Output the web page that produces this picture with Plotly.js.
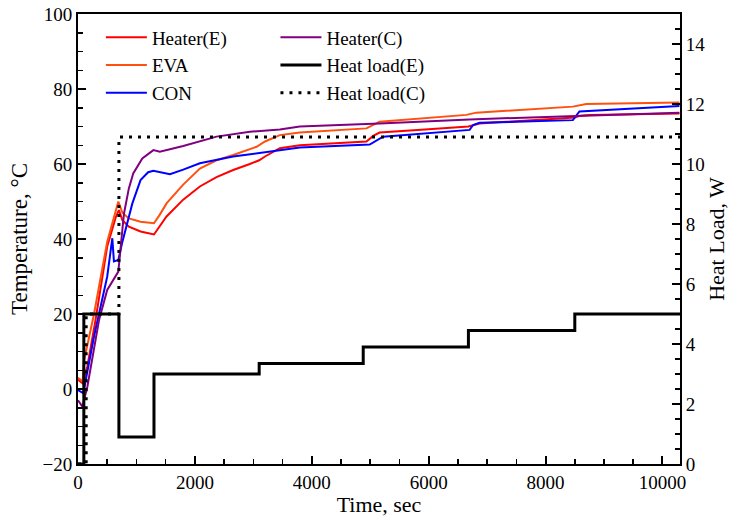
<!DOCTYPE html>
<html>
<head>
<meta charset="utf-8">
<script src="https://cdn.plot.ly/plotly-3.0.1.min.js"></script>
<style>html,body{margin:0;padding:0;background:#fff;}#chart{width:729px;height:517px;}</style>
</head>
<body>
<div id="chart"></div>
<script>
// Heater(E)
const heaterE_t = [0, 80, 160, 300, 500, 650, 700, 760, 870, 1070, 1300, 1400, 1515, 1800, 2085, 2370, 2655, 2940, 3100, 3200, 3453, 3795, 4500, 4935, 5050, 5160, 6000, 6680, 6870, 7500, 8500, 8600, 8750, 10290];
const heaterE_T = [2.5, 1.5, 6, 18.4, 38, 46, 47.7, 45, 43.3, 42, 41.2, 43.5, 46, 50.5, 54, 56.5, 58.4, 60, 61, 62, 64.2, 65, 65.7, 66, 67.5, 68.4, 69.3, 70, 70.8, 71.4, 72.4, 72.9, 73.1, 73.5];
// EVA
const eva_t = [0, 80, 100, 274, 500, 690, 760, 870, 1070, 1300, 1400, 1515, 1800, 2085, 2370, 2655, 3055, 3200, 3453, 3795, 4935, 5160, 6645, 6815, 8467, 8695, 10290];
const eva_T = [3, 2, 7.3, 20, 39.3, 50, 47, 45.5, 44.6, 44.2, 46.5, 49.5, 54.5, 58.8, 61, 62.4, 64.6, 66, 67.7, 68.4, 69.5, 71.3, 73.1, 73.7, 75.3, 76, 76.4];
// CON
const con_t = [0, 80, 100, 274, 500, 570, 587, 615, 690, 760, 930, 1070, 1200, 1290, 1400, 1573, 1800, 2085, 2655, 3225, 3453, 3795, 4990, 5220, 6700, 6760, 6870, 8467, 8580, 10290];
const con_T = [-0.3, -1, -0.3, 14, 30, 38, 40.2, 34, 34.4, 39.3, 49.5, 55.7, 57.8, 58.2, 57.8, 57.3, 58.5, 60.2, 62, 63.3, 63.7, 64.4, 65.2, 67.3, 69.1, 70.4, 71, 71.7, 74, 75.5];
// Heater(C)
const heaterC_t = [0, 75, 160, 360, 500, 690, 745, 787, 870, 945, 1100, 1290, 1400, 1800, 2370, 2940, 3453, 3795, 5160, 6700, 8525, 10290];
const heaterC_T = [-3, -4.7, 0.6, 18.4, 26.4, 31.3, 40.2, 46.8, 53.5, 57.5, 61.5, 63.7, 63.3, 64.8, 67.3, 68.6, 69.2, 70, 70.8, 71.9, 72.8, 73.7];
// Heat loads (W)
const loadE_t = [0, 100, 700, 1300, 3100, 4880, 6680, 8500, 10300];
const loadE_W = [0, 5, 0.9, 3, 3.35, 3.9, 4.45, 5, 5];
const loadC_t = [0, 140, 700, 10300];
const loadC_W = [0, 5, 10.9, 10.9];

const xTicks = [0, 2000, 4000, 6000, 8000, 10000];
const xTickText = ['0', '2000', '4000', '6000', '8000', '10000'];
const yTicks = [-20, 0, 20, 40, 60, 80, 100];
const y2Ticks = [0, 2, 4, 6, 8, 10, 12, 14];

const FONT = 'Liberation Serif';

const traces = [
  {x: heaterE_t, y: heaterE_T, name: 'Heater(E)', mode: 'lines', line: {color: '#ff0000', width: 2}, legend: 'legend'},
  {x: eva_t, y: eva_T, name: 'EVA', mode: 'lines', line: {color: '#ff5010', width: 2}, legend: 'legend'},
  {x: con_t, y: con_T, name: 'CON', mode: 'lines', line: {color: '#0000ff', width: 2}, legend: 'legend'},
  {x: heaterC_t, y: heaterC_T, name: 'Heater(C)', mode: 'lines', line: {color: '#800080', width: 2}, legend: 'legend2'},
  {x: loadE_t, y: loadE_W, name: 'Heat load(E)', mode: 'lines', yaxis: 'y2', line: {color: '#000000', width: 3, shape: 'hv'}, legend: 'legend2'},
  {x: loadC_t, y: loadC_W, name: 'Heat load(C)', mode: 'lines', yaxis: 'y2', line: {color: '#000000', width: 3, shape: 'hv', dash: '3px,6px'}, legend: 'legend2'}
];

const axisCommon = {
  showgrid: false, zeroline: false, showline: true, linewidth: 2, linecolor: '#000',
  ticks: 'inside', ticklen: 8, tickwidth: 2, tickcolor: '#000',
  tickfont: {family: FONT, size: 19, color: '#000'}
};

const legendCommon = {
  bgcolor: 'rgba(0,0,0,0)', borderwidth: 0, font: {family: FONT, size: 19, color: '#000'},
  xanchor: 'left', yanchor: 'top', itemwidth: 41, tracegroupgap: 0
};

const layout = {
  width: 729, height: 517,
  margin: {l: 78, r: 49, t: 14, b: 53, pad: 0},
  paper_bgcolor: '#fff', plot_bgcolor: '#fff',
  font: {family: FONT, color: '#000'},
  showlegend: true,
  xaxis: Object.assign({}, axisCommon, {
    range: [0, 10300], tickvals: xTicks, ticktext: xTickText, mirror: true,
    minor: {dtick: 500, ticks: 'inside', ticklen: 5, tickwidth: 1.5, tickcolor: '#000'},
    title: {text: 'Time, sec', font: {family: FONT, size: 22, color: '#000'}, standoff: 2}
  }),
  yaxis: Object.assign({}, axisCommon, {
    range: [-20, 100], tickvals: yTicks,
    minor: {dtick: 5, ticks: 'inside', ticklen: 5, tickwidth: 1.5, tickcolor: '#000'},
    title: {text: 'Temperature, °C', font: {family: FONT, size: 23, color: '#000'}, standoff: 8}
  }),
  yaxis2: Object.assign({}, axisCommon, {
    range: [0, 15], tickvals: y2Ticks, overlaying: 'y', side: 'right', anchor: 'x',
    minor: {dtick: 0.5, ticks: 'inside', ticklen: 5, tickwidth: 1.5, tickcolor: '#000'},
    title: {text: 'Heat Load, W', font: {family: FONT, size: 22, color: '#000'}, standoff: 6}
  }),
  legend: Object.assign({}, legendCommon, {x: 0.038, y: 0.99}),
  legend2: Object.assign({}, legendCommon, {x: 0.328, y: 0.99})
};

Plotly.newPlot('chart', traces, layout, {displayModeBar: false, staticPlot: true});
</script>
</body>
</html>
